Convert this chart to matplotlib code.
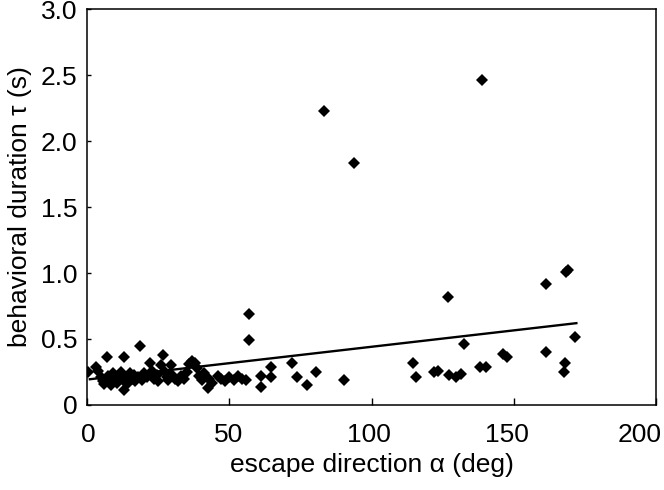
import numpy as np
import matplotlib
matplotlib.use("Agg")
from matplotlib import pyplot as plt
from matplotlib.transforms import ScaledTranslation

# escape direction (deg) and behavioral duration (s)
alpha = [0.5, 3, 4, 5, 5.5, 6, 7, 7.5, 8, 8.5, 9, 10, 10.5, 11, 12, 12.5, 13, 13,
         14, 14.5, 15, 16, 16.5, 17, 18, 18.8, 19.5, 20, 21, 22, 23, 23.5, 24.5,
         25, 26, 26.8, 27.5, 28, 28.5, 29.5, 30, 31, 32, 33, 34, 35, 36, 37, 38,
         38.5, 39.5, 40.5, 41, 42.5, 43, 44, 46, 47, 48.5, 50, 51.5, 53, 54.4,
         56, 56.8, 56.8, 61, 61, 64.5, 64.5, 72, 73.7, 77.5, 80.4, 83.2, 90.2,
         93.7, 114.5, 115.8, 122, 123.5, 127, 127.4, 129.8, 131.6, 132.6, 138,
         139, 140.4, 146.3, 147.7, 161.4, 161.4, 167.7, 168, 168.4, 169.2, 171.6]
tau = [0.25, 0.29, 0.26, 0.21, 0.18, 0.16, 0.36, 0.22, 0.19, 0.15, 0.24, 0.20,
       0.17, 0.22, 0.25, 0.19, 0.36, 0.11, 0.21, 0.17, 0.24, 0.20, 0.23, 0.18,
       0.21, 0.45, 0.19, 0.24, 0.21, 0.32, 0.26, 0.20, 0.23, 0.18, 0.30, 0.38,
       0.25, 0.21, 0.19, 0.30, 0.23, 0.20, 0.18, 0.22, 0.20, 0.25, 0.31, 0.33,
       0.32, 0.28, 0.22, 0.19, 0.24, 0.13, 0.20, 0.17, 0.22, 0.20, 0.18, 0.21,
       0.19, 0.22, 0.20, 0.19, 0.49, 0.69, 0.22, 0.14, 0.29, 0.21, 0.32, 0.21,
       0.15, 0.25, 2.23, 0.19, 1.83, 0.32, 0.21, 0.25, 0.26, 0.82, 0.23, 0.21,
       0.235, 0.46, 0.29, 2.46, 0.29, 0.39, 0.36, 0.92, 0.40, 0.25, 0.32, 1.01,
       1.02, 0.515]

# linear fit drawn in the figure
fit_alpha = [1, 172]
fit_tau = [0.195, 0.62]

xticks = [0, 50, 100, 150, 200]
yticks = [0, 0.5, 1.0, 1.5, 2.0, 2.5, 3.0]
yticklabels = ["0", "0.5", "1.0", "1.5", "2.0", "2.5", "3.0"]

plt.rcParams['font.family'] = ['Liberation Sans', 'DejaVu Sans']

fig = plt.figure(figsize=(6.64, 4.90), dpi=100)
ax = fig.add_axes([0.131, 0.1735, 0.857, 0.808])

ax.plot(alpha, tau, 'D', color='black', markersize=6.5, markeredgewidth=0)
ax.plot(fit_alpha, fit_tau, color='black', linewidth=1.7)

ax.set_xlim(0, 200)
ax.set_ylim(0, 3.0)
ax.set_xticks(xticks)
ax.set_yticks(yticks)
ax.set_yticklabels(yticklabels)
ax.tick_params(axis='x', direction='in', length=5, width=1, labelsize=19, pad=13)
ax.tick_params(axis='y', direction='in', length=3, width=1, labelsize=19, pad=7)
for s in ax.spines.values():
    s.set_linewidth(1.1)

# the original tick labels drift slightly left of their ticks
shifts = [1, -1, -3, -7, -16]
for lab, dx in zip(ax.get_xticklabels(), shifts):
    lab.set_transform(lab.get_transform() + ScaledTranslation(dx / 100, 0, fig.dpi_scale_trans))

ax.set_xlabel('escape direction α (deg)', fontsize=19, labelpad=4)
ax.set_ylabel('behavioral duration τ (s)', fontsize=19, labelpad=6)

fig.savefig('out.png', dpi=100)
